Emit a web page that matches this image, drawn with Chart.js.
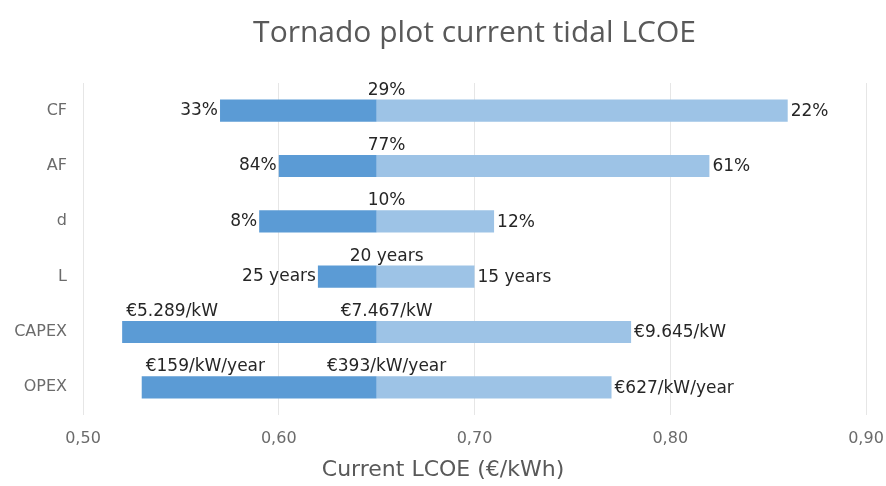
<!DOCTYPE html>
<html>
<head>
<meta charset="utf-8">
<script src="https://cdn.jsdelivr.net/npm/chart.js@4.4.1/dist/chart.umd.min.js"></script>
<style>
  html, body { margin: 0; padding: 0; background: #fff; }
  #wrap { width: 886px; height: 486px; }
</style>
</head>
<body>
<div id="wrap"><canvas id="chart"></canvas></div>
<script>
// --- Data ---
const params = ['CF', 'AF', 'd', 'L', 'CAPEX', 'OPEX'];
const baseLcoe = 0.65;
const lowLcoe = [0.57, 0.60, 0.59, 0.62, 0.52, 0.53];
const highLcoe = [0.86, 0.82, 0.71, 0.70, 0.78, 0.77];
const lowLabels = ['33%', '84%', '8%', '25 years', '€5.289/kW', '€159/kW/year'];
const baseLabels = ['29%', '77%', '10%', '20 years', '€7.467/kW', '€393/kW/year'];
const highLabels = ['22%', '61%', '12%', '15 years', '€9.645/kW', '€627/kW/year'];
const xTicks = [0.5, 0.6, 0.7, 0.8, 0.9];
const xTitle = 'Current LCOE (€/kWh)';

const labelFont = '17px "DejaVu Sans"';

// draws the value labels next to / above each bar, plus the x axis title
const barLabels = {
  id: 'barLabels',
  afterDatasetsDraw(chart) {
    const ctx = chart.ctx;
    const x = chart.scales.x;
    const area = chart.chartArea;
    const lowMeta = chart.getDatasetMeta(0);
    ctx.save();
    ctx.font = labelFont;
    ctx.fillStyle = '#262626';
    lowMeta.data.forEach((bar, i) => {
      const top = bar.y - bar.height / 2;
      const left = x.getPixelForValue(lowLcoe[i]);
      const right = x.getPixelForValue(highLcoe[i]);
      const mid = x.getPixelForValue(baseLcoe);

      // low end: beside the bar, or above it when there is no room
      const w = ctx.measureText(lowLabels[i]).width;
      if (left - w - 4 < area.left) {
        ctx.textAlign = 'left';
        ctx.textBaseline = 'bottom';
        ctx.fillText(lowLabels[i], left + 4, top - 1);
      } else {
        ctx.textAlign = 'right';
        ctx.textBaseline = 'middle';
        ctx.fillText(lowLabels[i], left - 2, bar.y);
      }
      // high end
      ctx.textAlign = 'left';
      ctx.textBaseline = 'middle';
      ctx.fillText(highLabels[i], right + 3, bar.y + 1);
      // base case above the split
      ctx.textAlign = 'center';
      ctx.textBaseline = 'bottom';
      ctx.fillText(baseLabels[i], mid + 10, top - 1);
    });

    // axis title, centred on the whole picture like the original
    ctx.font = '22px "DejaVu Sans"';
    ctx.fillStyle = '#595959';
    ctx.textAlign = 'center';
    ctx.textBaseline = 'middle';
    ctx.fillText(xTitle, chart.width / 2, x.bottom - 16);
    ctx.restore();
  }
};

new Chart(document.getElementById('chart'), {
  type: 'bar',
  data: {
    labels: params,
    datasets: [
      {
        label: 'Low',
        data: lowLcoe.map(v => [v, baseLcoe]),
        backgroundColor: '#5b9bd5',
        grouped: false,
        barPercentage: 0.4,
        categoryPercentage: 1
      },
      {
        label: 'High',
        data: highLcoe.map(v => [baseLcoe, v]),
        backgroundColor: '#9dc3e6',
        grouped: false,
        barPercentage: 0.4,
        categoryPercentage: 1
      }
    ]
  },
  options: {
    indexAxis: 'y',
    responsive: true,
    maintainAspectRatio: false,
    animation: false,
    layout: { padding: 0 },
    plugins: {
      legend: { display: false },
      tooltip: { enabled: false },
      title: {
        display: true,
        fullSize: false,
        text: 'Tornado plot current tidal LCOE',
        color: '#595959',
        font: { family: '"Open Sans"', size: 30, weight: 'normal' },
        padding: { top: 15, bottom: 32 }
      }
    },
    scales: {
      x: {
        min: 0.5,
        max: 0.9,
        afterBuildTicks: axis => { axis.ticks = xTicks.map(v => ({ value: v })); },
        // plot runs out to x = 866 and down to y = 415 like the original
        afterFit: axis => {
          axis.paddingRight = 20;
          axis.paddingLeft = 0;
          axis.height = 71;
        },
        grid: { color: '#e6e6e6', drawTicks: false },
        border: { display: false },
        ticks: {
          padding: 16,
          color: '#6b6b6b',
          font: { family: '"DejaVu Sans"', size: 16, lineHeight: 1 },
          callback: v => v.toFixed(2).replace('.', ',')
        }
      },
      y: {
        grid: { display: false, drawTicks: false },
        border: { display: false },
        afterFit: axis => { axis.width = 83; },
        ticks: {
          padding: 16,
          color: '#6b6b6b',
          font: { family: '"DejaVu Sans"', size: 16 }
        }
      }
    }
  },
  plugins: [barLabels]
});
</script>
</body>
</html>
